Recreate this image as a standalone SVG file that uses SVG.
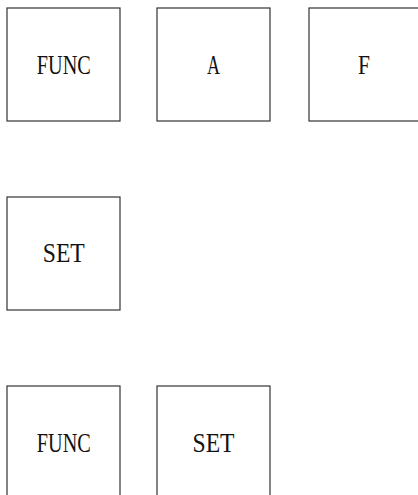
<svg xmlns="http://www.w3.org/2000/svg" width="418" height="495" viewBox="0 0 418 495">
<style>
.box{fill:#fff;stroke:#333;stroke-width:1.2}
.lbl{font-family:"Liberation Serif","DejaVu Serif",serif;font-size:28px;fill:#111;text-anchor:middle}
</style>
<rect width="418" height="495" fill="#fff"/>
<g id="connectors"></g>
<g id="func1"><rect class="box" x="7" y="8" width="113" height="113"/><text class="lbl" x="63.8" y="74" textLength="54" lengthAdjust="spacingAndGlyphs">FUNC</text></g>
<g id="a"><rect class="box" x="157" y="8" width="113" height="113"/><text class="lbl" x="213.5" y="74" textLength="13" lengthAdjust="spacingAndGlyphs">A</text></g>
<g id="f"><rect class="box" x="309" y="8" width="113" height="113"/><text class="lbl" x="364" y="74" textLength="12" lengthAdjust="spacingAndGlyphs">F</text></g>
<g id="set1"><rect class="box" x="7" y="197" width="113" height="113"/><text class="lbl" x="63.8" y="262" textLength="42" lengthAdjust="spacingAndGlyphs">SET</text></g>
<g id="func2"><rect class="box" x="7" y="386" width="113" height="113"/><text class="lbl" x="63.8" y="452" textLength="54" lengthAdjust="spacingAndGlyphs">FUNC</text></g>
<g id="set2"><rect class="box" x="157" y="386" width="113" height="113"/><text class="lbl" x="213.5" y="452" textLength="42" lengthAdjust="spacingAndGlyphs">SET</text></g>
</svg>
